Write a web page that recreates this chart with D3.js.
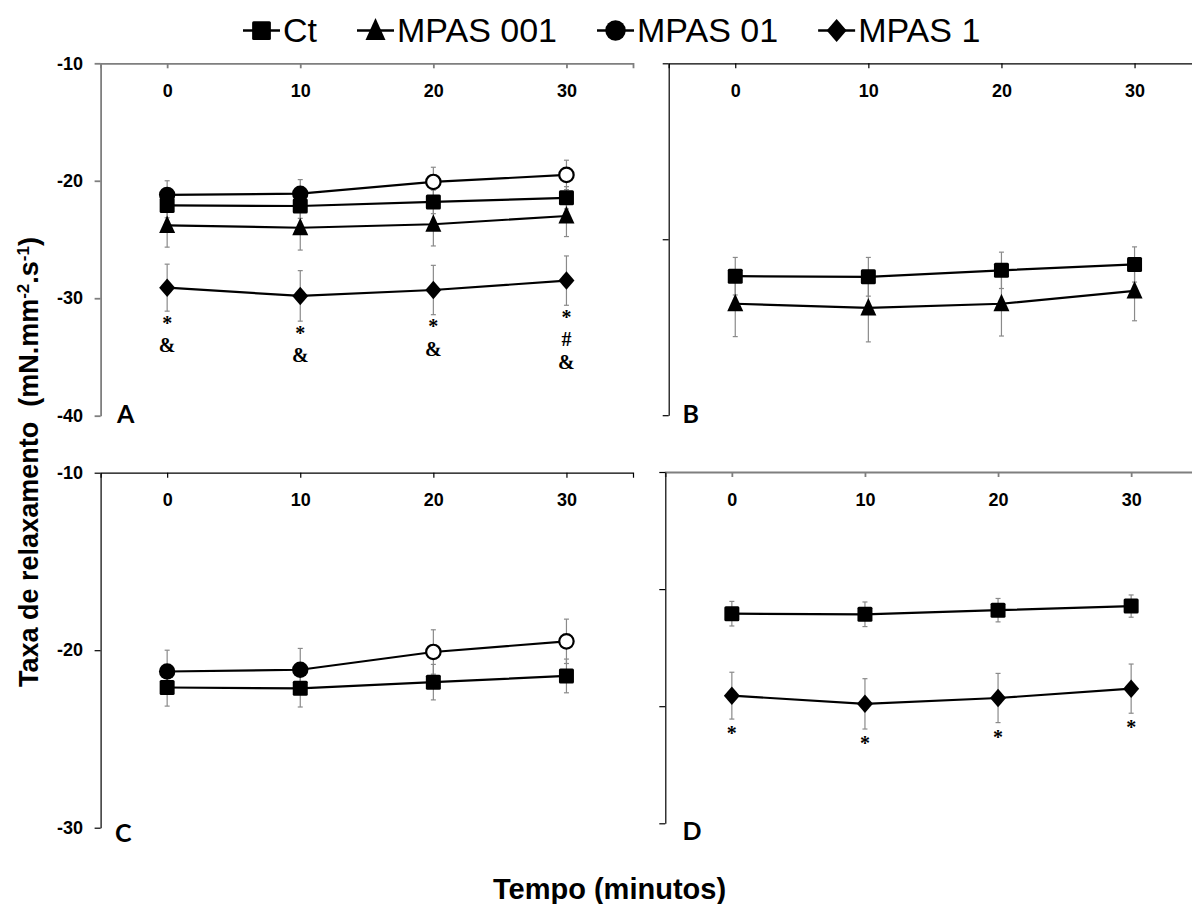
<!DOCTYPE html>
<html lang="pt">
<head>
<meta charset="UTF-8">
<title>Taxa de relaxamento</title>
<script src="https://d3js.org/d3.v7.min.js"></script>
<style>
  body { margin: 0; background: #fff; }
  svg { display: block; }
</style>
</head>
<body>
<script>

var minutes = [0, 10, 20, 30];

// valores dos paineis A, C e D (media e erro padrao)
var ctMean = [-22.1, -22.15, -21.8, -21.45];
var ctSE = [1.05, 1.05, 1.0, 0.95];
var mpas001Mean = [-23.8, -24.0, -23.7, -23.0];
var mpas001SE = [1.85, 1.9, 1.85, 1.75];
var mpas01Mean = [-21.2, -21.1, -20.1, -19.5];
var mpas01SE = [1.2, 1.2, 1.25, 1.25];
var mpas01Open = [false, false, true, true];
var mpas1Mean = [-29.1, -29.8, -29.3, -28.5];
var mpas1SE = [2.0, 2.15, 2.1, 2.1];

// painel B
var ctMeanB = [-28.15, -28.2, -27.65, -27.15];
var ctSEB = [1.6, 1.65, 1.55, 1.5];
var mpas001MeanB = [-30.5, -30.85, -30.5, -29.4];
var mpas001SEB = [2.8, 2.9, 2.75, 2.55];

// marcas de significancia
var notesA = [["*", "&"], ["*", "&"], ["*", "&"], ["*", "#", "&"]];
var notesD = [["*"], ["*"], ["*"], ["*"]];

var legendNames = ["Ct", "MPAS 001", "MPAS 01", "MPAS 1"];
var legendSymbols = ["square", "triangle", "circle", "diamond"];

var yTicksA = [-10, -20, -30, -40];
var yTicksB = [-10, -25, -40];
var yTicksC = [-10, -20, -30];
var yTicksD = [-10, -20, -30, -40];
var xDomain = [-5, 35];

var w = 1192;
var h = 904;
var plotW = 532.4;

var svg = d3.select("body")
    .append("svg")
    .attr("width", w)
    .attr("height", h);

var sansFont = "'Liberation Sans', Arial, sans-serif";

// rotulo com hifen simples, como no original
function plainLabel(d) { return String(d); }

function markerPath(sym, k) {
    if (sym === "triangle") {
        var tw = 16 * k, th = 17.5 * k;
        return "M0," + (-th * 0.57) + "L" + (tw / 2) + "," + (th * 0.43) + "L" + (-tw / 2) + "," + (th * 0.43) + "Z";
    }
    if (sym === "diamond") {
        var dw = 16 * k, dh = 18.5 * k;
        return "M0," + (-dh / 2) + "L" + (dw / 2) + ",0L0," + (dh / 2) + "L" + (-dw / 2) + ",0Z";
    }
    return null;
}

function drawMarker(g, sym, cx, cy, k, open) {
    if (sym === "square") {
        var s = 15 * k;
        g.append("rect")
            .attr("x", cx - s / 2).attr("y", cy - s / 2)
            .attr("width", s).attr("height", s)
            .attr("rx", 1.5)
            .attr("fill", "black");
    } else if (sym === "circle") {
        g.append("circle")
            .attr("cx", cx).attr("cy", cy)
            .attr("r", open ? 7.2 * k : 8.2 * k)
            .attr("fill", open ? "white" : "black")
            .attr("stroke", "black")
            .attr("stroke-width", open ? 2.2 : 0);
    } else {
        g.append("path")
            .attr("transform", "translate(" + cx + "," + cy + ")")
            .attr("d", markerPath(sym, k))
            .attr("fill", "black");
    }
}

var panels = [
    {
        left: 100.6, top: 63.3, bottom: 415.7, yDomain: [-10, -40], yTicks: yTicksA, yLabels: true,
        xColor: "#7f7f7f", xWidth: 1.8, yColor: "#7f7f7f", yWidth: 1.8,
        label: "A", labelX: 117, labelY: 423,
        series: [
            { mean: mpas1Mean, se: mpas1SE, sym: "diamond", notes: notesA, noteGap: 18.5 },
            { mean: mpas001Mean, se: mpas001SE, sym: "triangle" },
            { mean: ctMean, se: ctSE, sym: "square" },
            { mean: mpas01Mean, se: mpas01SE, sym: "circle", open: mpas01Open }
        ]
    },
    {
        left: 668.7, top: 63.3, bottom: 415.2, yDomain: [-10, -40], yTicks: yTicksB, yLabels: false,
        xColor: "#000", xWidth: 1.2, yColor: "#000", yWidth: 1.2,
        label: "B", labelX: 682.5, labelY: 423,
        series: [
            { mean: mpas001MeanB, se: mpas001SEB, sym: "triangle" },
            { mean: ctMeanB, se: ctSEB, sym: "square" }
        ]
    },
    {
        left: 100.6, top: 472.7, bottom: 827.7, yDomain: [-10, -30], yTicks: yTicksC, yLabels: true,
        xColor: "#000", xWidth: 1.2, yColor: "#000", yWidth: 1.2,
        label: "C", labelX: 115, labelY: 842,
        series: [
            { mean: ctMean, se: ctSE, sym: "square" },
            { mean: mpas01Mean, se: mpas01SE, sym: "circle", open: mpas01Open }
        ]
    },
    {
        left: 665.3, top: 472, bottom: 823.3, yDomain: [-10, -40], yTicks: yTicksD, yLabels: false,
        xColor: "#7f7f7f", xWidth: 1.8, yColor: "#000", yWidth: 1.2,
        label: "D", labelX: 682.5, labelY: 840,
        series: [
            { mean: mpas1Mean, se: mpas1SE, sym: "diamond", notes: notesD, noteGap: 21 },
            { mean: ctMean, se: ctSE, sym: "square" }
        ]
    }
];

panels.forEach(function (p) {
    var g = svg.append("g");

    var xScale = d3.scaleLinear()
        .domain(xDomain)
        .range([p.left, p.left + plotW]);

    var yScale = d3.scaleLinear()
        .domain(p.yDomain)
        .range([p.top, p.bottom]);

    // eixo x no topo, marcas e rotulos para dentro
    var xAxis = g.append("g")
        .attr("transform", "translate(0," + p.top + ")")
        .call(d3.axisBottom(xScale)
            .tickValues(minutes)
            .tickSize(5)
            .tickSizeOuter(5)
            .tickPadding(16)
            .tickFormat(plainLabel));
    xAxis.selectAll("path, line")
        .attr("stroke", p.xColor)
        .attr("stroke-width", p.xWidth);
    xAxis.selectAll("text")
        .attr("font-family", sansFont)
        .attr("font-weight", "bold")
        .attr("font-size", 18)
        .attr("fill", "black");

    var yAxis = g.append("g")
        .attr("transform", "translate(" + p.left + ",0)")
        .call(d3.axisLeft(yScale)
            .tickValues(p.yTicks)
            .tickSize(6)
            .tickSizeOuter(0)
            .tickPadding(11.5)
            .tickFormat(p.yLabels ? plainLabel : ""));
    yAxis.selectAll("path, line")
        .attr("stroke", p.yColor)
        .attr("stroke-width", p.yWidth);
    yAxis.selectAll("text")
        .attr("font-family", sansFont)
        .attr("font-weight", "bold")
        .attr("font-size", 18)
        .attr("fill", "black");
    g.selectAll(".domain").attr("fill", "none");

    // barras de erro
    p.series.forEach(function (s) {
        minutes.forEach(function (m, i) {
            var cx = xScale(m);
            var y1 = yScale(s.mean[i] + s.se[i]);
            var y2 = yScale(s.mean[i] - s.se[i]);
            g.append("line")
                .attr("x1", cx).attr("x2", cx)
                .attr("y1", y1).attr("y2", y2)
                .attr("stroke", "#8a8a8a").attr("stroke-width", 1.2);
            [y1, y2].forEach(function (yy) {
                g.append("line")
                    .attr("x1", cx - 2.5).attr("x2", cx + 2.5)
                    .attr("y1", yy).attr("y2", yy)
                    .attr("stroke", "#8a8a8a").attr("stroke-width", 1.2);
            });
        });
    });

    // linhas
    p.series.forEach(function (s) {
        var line = d3.line()
            .x(function (d, i) { return xScale(minutes[i]); })
            .y(function (d) { return yScale(d); });
        g.append("path")
            .datum(s.mean)
            .attr("d", line)
            .attr("fill", "none")
            .attr("stroke", "black")
            .attr("stroke-width", 2.2);
    });

    // marcadores
    p.series.forEach(function (s) {
        s.mean.forEach(function (v, i) {
            drawMarker(g, s.sym, xScale(minutes[i]), yScale(v), 1, s.open ? s.open[i] : false);
        });
    });

    // anotacoes (uma linha de texto por simbolo, empilhadas)
    p.series.forEach(function (s) {
        if (!s.notes) return;
        s.notes.forEach(function (lines, i) {
            var bottom = yScale(s.mean[i] - s.se[i]);
            lines.forEach(function (ch, k) {
                g.append("text")
                    .attr("x", xScale(minutes[i]))
                    .attr("y", bottom + s.noteGap + 22.5 * k)
                    .attr("text-anchor", "middle")
                    .attr("font-family", "'Liberation Serif', 'Times New Roman', serif")
                    .attr("font-weight", "bold")
                    .attr("font-size", 20)
                    .text(ch);
            });
        });
    });

    g.append("text")
        .attr("x", p.labelX)
        .attr("y", p.labelY)
        .attr("font-family", "Lato, 'Open Sans', sans-serif")
        .attr("font-weight", "bold")
        .attr("font-size", 25)
        .text(p.label);
});

// legenda
var legend = svg.append("g");
var lx = 243;
var ly = 30.5;
legendNames.forEach(function (name, i) {
    legend.append("line")
        .attr("x1", lx).attr("x2", lx + 37)
        .attr("y1", ly).attr("y2", ly)
        .attr("stroke", "black")
        .attr("stroke-width", 2.5);
    drawMarker(legend, legendSymbols[i], lx + 18.5, ly, 1.25, false);
    var t = legend.append("text")
        .attr("x", lx + 40)
        .attr("y", 42)
        .attr("font-family", sansFont)
        .attr("font-size", 34)
        .attr("fill", "black")
        .text(name);
    lx = lx + 40 + t.node().getComputedTextLength() + 40;
});

// titulos dos eixos
var yTitle = svg.append("text")
    .attr("transform", "translate(38,462) rotate(-90)")
    .attr("text-anchor", "middle")
    .attr("font-family", sansFont)
    .attr("font-weight", "bold")
    .attr("font-size", 27)
    .attr("fill", "black");
yTitle.append("tspan").text("Taxa de relaxamento\u00a0 (mN.mm");
yTitle.append("tspan").attr("baseline-shift", "super").attr("font-size", 17).text("-2");
yTitle.append("tspan").text(".s");
yTitle.append("tspan").attr("baseline-shift", "super").attr("font-size", 17).text("-1");
yTitle.append("tspan").text(")");

svg.append("text")
    .attr("x", 493)
    .attr("y", 899)
    .attr("font-family", sansFont)
    .attr("font-weight", "bold")
    .attr("font-size", 29)
    .attr("fill", "black")
    .text("Tempo (minutos)");

</script>
</body>
</html>
